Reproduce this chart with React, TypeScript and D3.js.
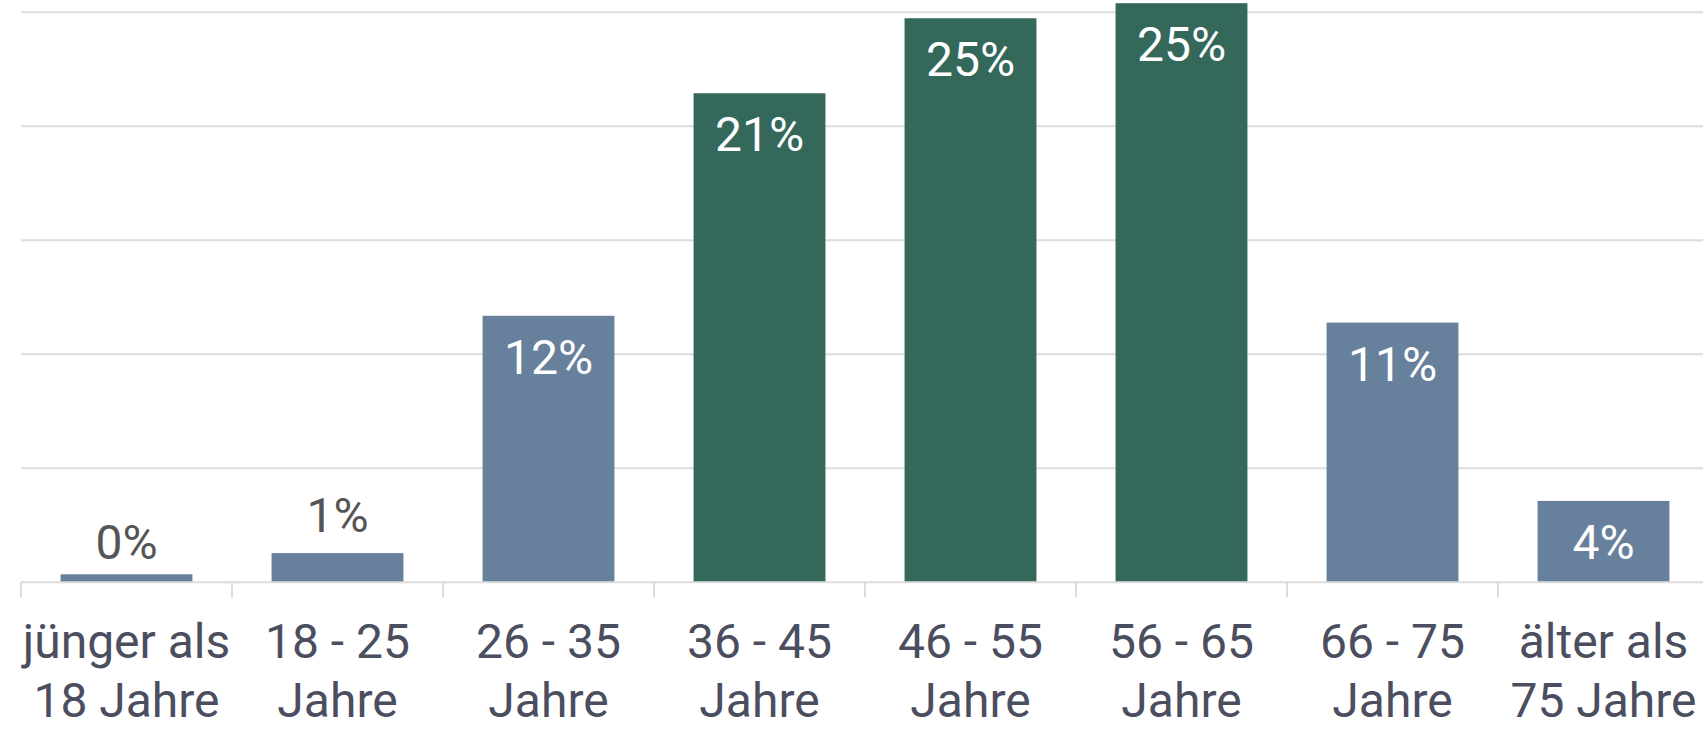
import React from "react";
import * as d3 from "d3";

const categories: string[][] = [
  ["jünger als", "18 Jahre"],
  ["18 - 25", "Jahre"],
  ["26 - 35", "Jahre"],
  ["36 - 45", "Jahre"],
  ["46 - 55", "Jahre"],
  ["56 - 65", "Jahre"],
  ["66 - 75", "Jahre"],
  ["älter als", "75 Jahre"],
];
const values: number[] = [0.1, 1.28, 11.69, 21.45, 24.74, 25.4, 11.39, 3.57];
const highlighted: boolean[] = [false, false, false, true, true, true, false, false];
const yTicks: number[] = [0, 5, 10, 15, 20, 25];

const W = 1703;
const H = 731;
const left = 21;
const step = 211;
const y0 = 582.3;
const yTop = 12.3;
const minBar = 7;

export default function App() {
  const x = d3
    .scaleBand<number>()
    .domain(d3.range(categories.length))
    .range([left, left + step * categories.length])
    .paddingInner(0.375)
    .paddingOuter(0.1875);
  const y = d3.scaleLinear().domain([0, 25]).range([y0, yTop]);
  const font = "Roboto, 'Noto Sans', sans-serif";

  return (
    <div style={{ position: "fixed", left: 0, top: 0, width: W, height: H, background: "#fff" }}>
      <svg width={W} height={H} style={{ display: "block" }}>
        {yTicks.map((t) => (
          <line key={t} x1={left} x2={W} y1={y(t)} y2={y(t)} stroke="#dcdcdc" strokeWidth={2} />
        ))}
        {d3.range(categories.length).map((i) => (
          <line
            key={"tk" + i}
            x1={left + step * i}
            x2={left + step * i}
            y1={y0}
            y2={y0 + 15}
            stroke="#dcdcdc"
            strokeWidth={2}
          />
        ))}
        {values.map((v, i) => {
          const h = Math.max(minBar, y0 - 1 - y(v));
          return (
            <rect
              key={"b" + i}
              x={x(i)}
              y={y0 - 1 - h}
              width={x.bandwidth()}
              height={h}
              fill={highlighted[i] ? "#33685b" : "#67819d"}
            />
          );
        })}
        {values.map((v, i) => {
          const inside = v > 3;
          const cx = (x(i) as number) + x.bandwidth() / 2;
          return (
            <text
              key={"v" + i}
              x={cx}
              y={inside ? y(v) + 58 : y(v) - 21}
              textAnchor="middle"
              fontFamily={font}
              fontSize={48}
              fill={inside ? "#ffffff" : "#555555"}
            >
              {Math.round(v) + "%"}
            </text>
          );
        })}
        {categories.map((lines, i) => {
          const cx = (x(i) as number) + x.bandwidth() / 2;
          return (
            <text
              key={"c" + i}
              textAnchor="middle"
              fontFamily={font}
              fontSize={48}
              fill="#4b4e5f"
            >
              {lines.map((l, j) => (
                <tspan key={j} x={cx} y={658 + j * 58.5}>
                  {l}
                </tspan>
              ))}
            </text>
          );
        })}
      </svg>
    </div>
  );
}
